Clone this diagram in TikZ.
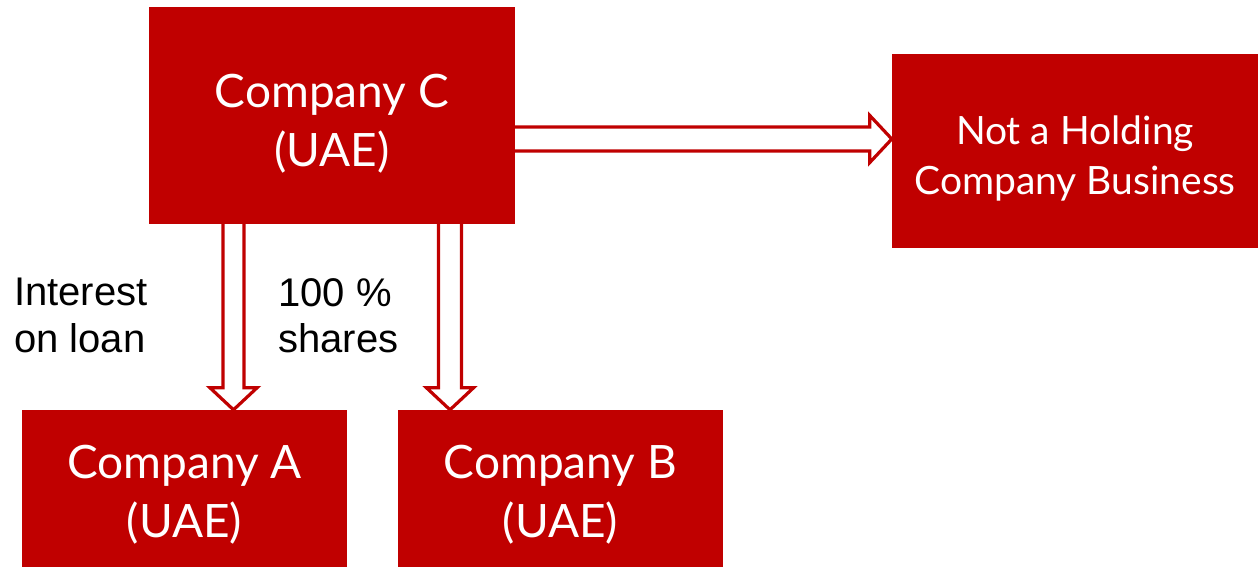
\documentclass[tikz,border=0pt]{standalone}
\usepackage{fontspec}
\setmainfont{Lato}
\newfontfamily\labelfont{Liberation Sans}
\usetikzlibrary{calc}
\definecolor{boxred}{HTML}{C00000}

% hollow block arrow from #2 to #3, shaft half width #1
\newcommand{\hollowarrow}[3]{%
  \coordinate (hb) at ($(#3)!22pt!(#2)$);
  \draw[hollow]
    ($(#2)!#1!90:(#3)$) -- ($(hb)!#1!90:(#3)$) -- ($(hb)!23.5pt!90:(#3)$)
    -- (#3)
    -- ($(hb)!23.5pt!-90:(#3)$) -- ($(hb)!#1!-90:(#3)$) -- ($(#2)!#1!-90:(#3)$);
}

\begin{document}
\begin{tikzpicture}[x=1pt,y=-1pt,
  redbox/.style={fill=boxred, draw=none, text=white, align=center, inner sep=0pt},
  bigtext/.style={font=\fontsize{46}{59}\selectfont},
  midtext/.style={font=\fontsize{39}{50}\selectfont},
  note/.style={font=\labelfont\fontsize{40}{46.5}\selectfont, align=left, inner sep=0pt, anchor=north west},
  hollow/.style={draw=boxred, line width=3.2pt, line join=miter}]
\clip (0,0) rectangle (1258,566);
\fill[white] (0,0) rectangle (1258,566);

\node[redbox, bigtext, minimum width=366pt, minimum height=217pt] (C) at (332,115.5) {\rule{0pt}{50pt}Company C\\(UAE)};
\node[redbox, midtext, minimum width=366pt, minimum height=194pt] (N) at (1075,151) {\rule{0pt}{44pt}Not a Holding\\Company Business};
\node[redbox, bigtext, minimum width=325pt, minimum height=170pt] (A) at (184.5,495) {Company A\\(UAE)};
\node[redbox, bigtext, minimum width=325pt, minimum height=170pt] (B) at (560.5,495) {Company B\\(UAE)};

\node[note] (l1) at (14,278) {Interest\\on loan};
\node[note] (l2) at (278,278) {100 \%\\shares};

\coordinate (sa) at ($(C.south)+(-98.5,0)$);
\coordinate (sb) at ($(C.south)+(118,0)$);
\coordinate (sn) at ($(C.east)+(0,23.5)$);
\coordinate (ta) at (sa |- A.north);
\coordinate (tb) at (sb |- B.north);
\coordinate (tn) at (N.west |- sn);

\hollowarrow{10.5pt}{sa}{ta}
\hollowarrow{11.5pt}{sb}{tb}
\hollowarrow{12pt}{sn}{tn}
\end{tikzpicture}
\end{document}
